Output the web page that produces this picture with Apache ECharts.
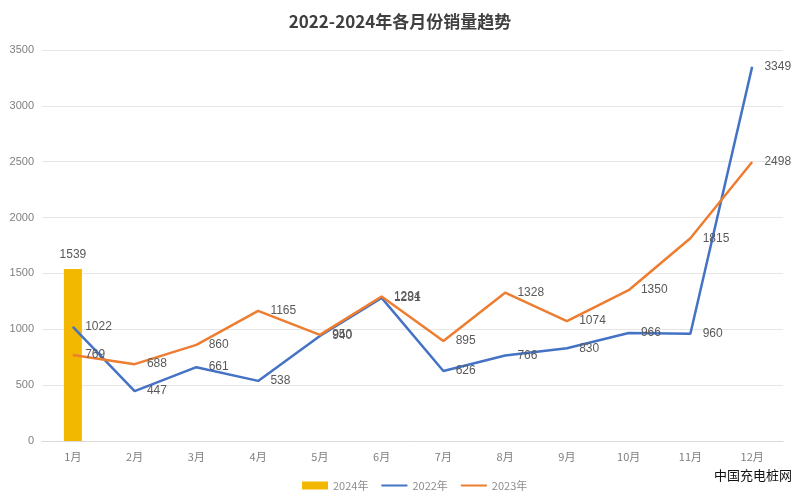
<!DOCTYPE html>
<html><head><meta charset="utf-8">
<script src="https://cdn.jsdelivr.net/npm/echarts@6/dist/echarts.min.js"></script>
<style>html,body{margin:0;padding:0;background:#fff}#c{width:800px;height:504px}</style>
</head><body><div id="c"></div>
<script>
const categories = ['1月','2月','3月','4月','5月','6月','7月','8月','9月','10月','11月','12月'];
const sales2024 = [1539, null, null, null, null, null, null, null, null, null, null, null];
const sales2022 = [1022, 447, 661, 538, 940, 1281, 626, 766, 830, 966, 960, 3349];
const sales2023 = [769, 688, 860, 1165, 950, 1294, 895, 1328, 1074, 1350, 1815, 2498];
const yTicks = [0, 500, 1000, 1500, 2000, 2500, 3000, 3500];

const font = '"Liberation Sans", "Noto Sans CJK SC", sans-serif';
const chart = echarts.init(document.getElementById('c'));
const lbl = {show: true, position: 'right', distance: 12, color: '#595959', fontSize: 12, fontFamily: font};
chart.setOption({
  animation: false,
  backgroundColor: '#fff',
  title: {text: '2022-2024年各月份销量趋势', left: 'center', top: 8,
    textStyle: {fontSize: 17, fontWeight: 'bold', color: '#404040', fontFamily: '"Noto Sans CJK SC", sans-serif'}},
  grid: {left: 42, right: 17, top: 50, bottom: 63},
  legend: {bottom: 8, left: 297, itemGap: 12, itemWidth: 26, itemHeight: 8,
    textStyle: {color: '#8c8c8c', fontSize: 11, fontFamily: '"Noto Sans CJK SC", sans-serif'},
    data: [{name: '2024年', icon: 'rect'},
      {name: '2022年', itemStyle: {opacity: 0}},
      {name: '2023年', itemStyle: {opacity: 0}}]},
  xAxis: {type: 'category', data: categories, boundaryGap: true,
    axisLine: {lineStyle: {color: '#d9d9d9'}}, axisTick: {show: false},
    axisLabel: {color: '#7f7f7f', fontSize: 11, margin: 10, fontFamily: '"Noto Sans CJK SC", sans-serif'}},
  yAxis: {type: 'value', min: yTicks[0], max: yTicks[yTicks.length-1], interval: 500,
    axisLine: {show: false}, axisTick: {show: false},
    splitLine: {lineStyle: {color: '#e6e6e6'}},
    axisLabel: {color: '#7f7f7f', fontSize: 11, margin: 8, fontFamily: font, formatter: v => String(v)}},
  series: [
    {name: '2024年', type: 'bar', data: sales2024, barWidth: 18, itemStyle: {color: '#F2B800'},
      label: {show: true, position: 'top', distance: 8, color: '#595959', fontSize: 12, fontFamily: font}},
    {name: '2022年', type: 'line', data: sales2022, showSymbol: true, symbol: 'circle', symbolSize: 0.5,
      lineStyle: {color: '#4472C4', width: 2.5}, itemStyle: {color: '#4472C4'}, label: lbl},
    {name: '2023年', type: 'line', data: sales2023, showSymbol: true, symbol: 'circle', symbolSize: 0.5,
      lineStyle: {color: '#ED7D31', width: 2.5}, itemStyle: {color: '#ED7D31'}, label: lbl}
  ],
  graphic: [{type: 'text', right: 8, bottom: 22,
    style: {text: '中国充电桩网', fill: '#111', fontSize: 13, fontFamily: '"Noto Sans CJK SC", sans-serif'}}]
});
</script></body></html>
